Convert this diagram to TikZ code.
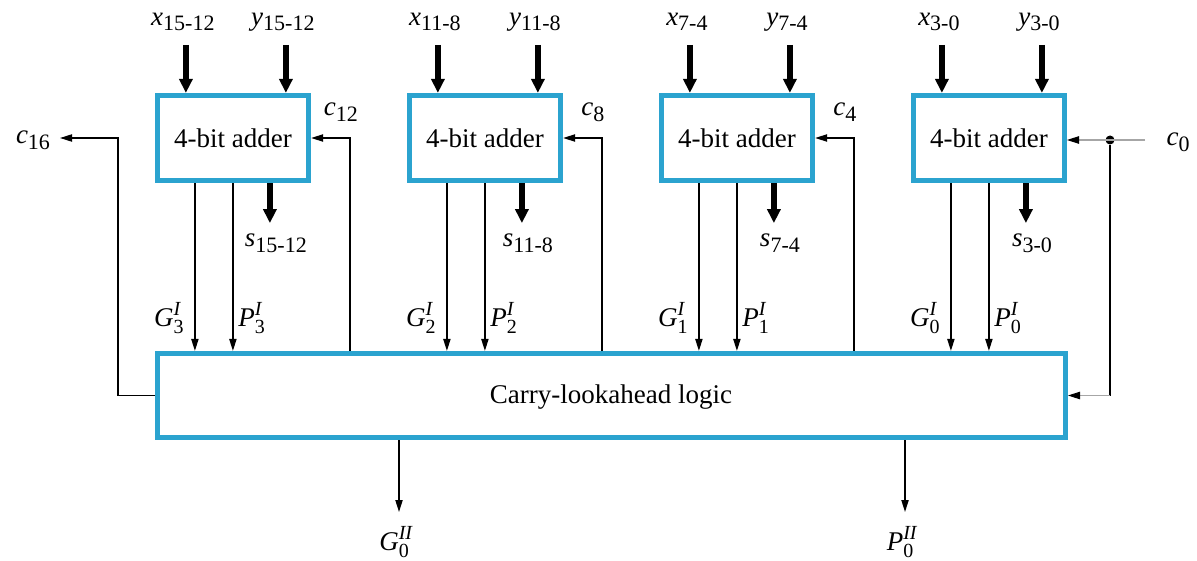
\documentclass[tikz,border=0pt]{standalone}
\usepackage{fontspec}
\setmainfont{Liberation Serif}
\usetikzlibrary{arrows.meta,calc}
\definecolor{boxblue}{HTML}{2BA3CF}
\newcommand\sbx[2]{\textit{#1}\raisebox{-0.45ex}{\fontsize{11}{12}\selectfont #2}}
\newcommand\gpx[3]{\textit{#1}\makebox[0pt][l]{\raisebox{0.85ex}{\fontsize{10}{11}\selectfont\textit{#2}}}\raisebox{-0.55ex}{\fontsize{10}{11}\selectfont #3}}
\begin{document}
\begin{tikzpicture}[x=0.5pt,y=-0.5pt,
  every node/.style={font=\fontsize{13.5}{16}\selectfont, inner sep=1pt},
  adderbox/.style={draw=boxblue, line width=2.6pt, minimum width=75.5pt, minimum height=42.5pt, fill=white},
  clabox/.style={draw=boxblue, line width=2.6pt, minimum width=454pt, minimum height=42pt, fill=white},
  bigarr/.style={line width=2.6pt, -{Triangle[length=7pt,width=6.5pt]}},
  thinarr/.style={line width=0.7pt, -{Triangle[length=6pt,width=3.6pt]}},
  thinline/.style={line width=0.7pt},
  grayarr/.style={line width=0.9pt, draw=gray!70, -{Triangle[length=6pt,width=3.8pt,color=black,line width=0.5pt]}},
  dot/.style={circle, fill=black, inner sep=0pt, minimum size=4.5pt}]
\useasboundingbox (0,0) rectangle (1197,561);
\fill[white] (0,0) rectangle (1197,561);

\node[clabox] (cla) at (611.5,395.5) {};
\node at (611,397) (clatext) {Carry-lookahead logic};

% adders
\foreach \k/\xl/\yl/\sl/\gi in {1/15-12/15-12/15-12/3, 2/11-8/11-8/11-8/2, 3/7-4/7-4/7-4/1, 4/3-0/3-0/3-0/0}{
  \pgfmathsetmacro{\cx}{233+252*(\k-1)}
  \node[adderbox] (a\k) at (\cx,138) {4-bit adder};
  % inputs
  \coordinate (ix\k) at ($(a\k.north west)+(31,0)$);
  \coordinate (iy\k) at ($(a\k.north west)+(131,0)$);
  \node (x\k) at ($(ix\k)+(-3,-71)$) {\sbx{x}{\xl}};
  \node (y\k) at ($(iy\k)+(-3,-71)$) {\sbx{y}{\yl}};
  \draw[bigarr] (ix\k |- 0,45) -- (ix\k);
  \draw[bigarr] (iy\k |- 0,45) -- (iy\k);
  % G, P, s outputs
  \coordinate (g\k) at ($(a\k.south west)+(40,0)$);
  \coordinate (p\k) at ($(a\k.south west)+(78,0)$);
  \coordinate (s\k) at ($(a\k.south west)+(115,0)$);
  \draw[thinarr] (g\k) -- (g\k |- cla.north);
  \draw[thinarr] (p\k) -- (p\k |- cla.north);
  \draw[bigarr] (s\k) -- ++(0,40) coordinate (se\k);
  \node (sl\k) at ($(se\k)+(6,20)$) {\sbx{s}{\sl}};
  \node[anchor=east] (gl\k) at ($(g\k |- 0,318)+(-9,0)$) {\gpx{G}{I}{\gi}};
  \node[anchor=west] (pl\k) at ($(p\k |- 0,318)+(3,0)$) {\gpx{P}{I}{\gi}};
}

% carries between stages
\foreach \k/\cl in {1/12,2/8,3/4}{
  \coordinate (cb\k) at ($(a\k.south west)+(195,0)$);
  \draw[thinarr] (cb\k |- cla.north) -- (cb\k |- a\k.east) -- (a\k.east);
  \node (cl\k) at ($(cb\k |- 0,112)+(-9,0)$) {\sbx{c}{\cl}};
}

% c16
\node (c16) at (33,140) {\sbx{c}{16}};
\coordinate (c16t) at (60,138);
\draw[thinarr] (cla.west) -- (118,395.5) -- (118,138) -- (c16t);

% c0
\node (c0) at (1178,142) {\sbx{c}{0}};
\coordinate (c0s) at (1145,140);
\node[dot] (jd) at (1110,140) {};
\draw[grayarr] (c0s) -- (a4.east |- c0s);
\draw[thinline] (jd) -- (1110,395.5);
\draw[grayarr] (1110,395.5) -- (cla.east);

% second level outputs
\coordinate (gii) at (399,440);
\coordinate (pii) at (905,440);
\draw[thinarr] (gii |- cla.south) -- (399,512) coordinate (giie);
\draw[thinarr] (pii |- cla.south) -- (905,512) coordinate (piie);
\node (giil) at (394,542) {\gpx{G}{II}{0}\hspace{0.3em}};
\node (piil) at (900,542) {\gpx{P}{II}{0}\hspace{0.3em}};
\end{tikzpicture}
\end{document}
